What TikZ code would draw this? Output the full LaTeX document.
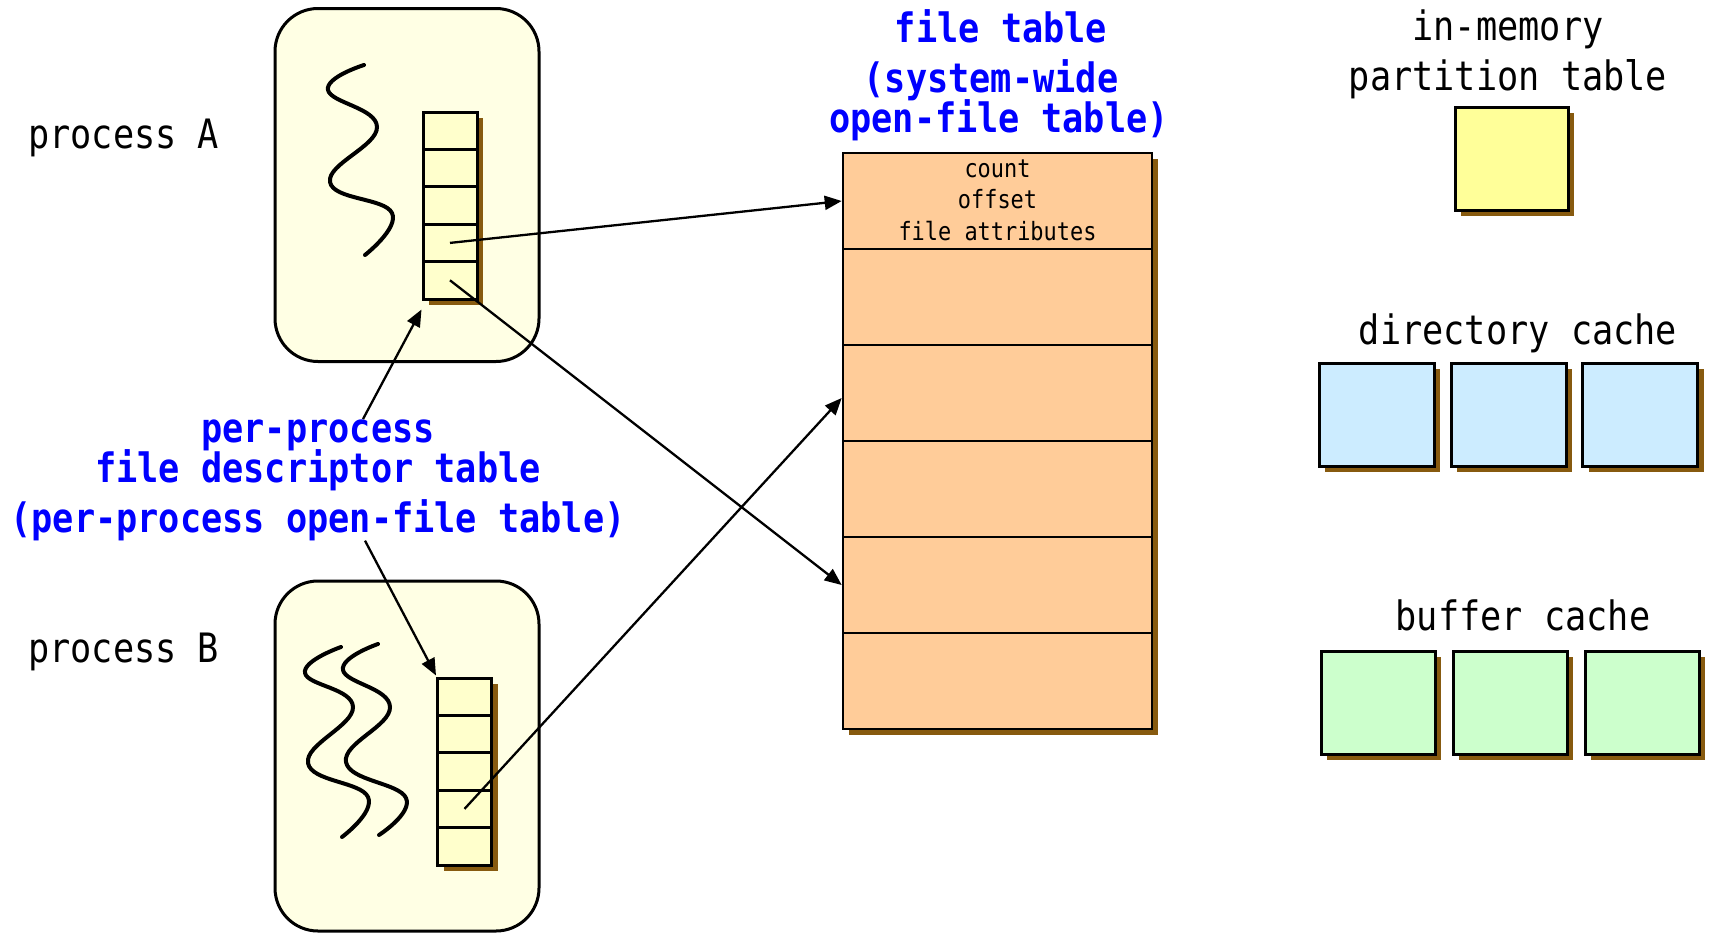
\documentclass[tikz,border=0pt]{standalone}
\usepackage{fontspec}
\newfontfamily\mono[FakeStretch=0.87]{DejaVu Sans Mono}
\usetikzlibrary{arrows.meta,shadows}
\definecolor{shadowc}{RGB}{135,90,15}
\definecolor{procfill}{RGB}{255,255,228}
\definecolor{cellfill}{RGB}{255,255,204}
\definecolor{ftfill}{RGB}{255,204,153}
\definecolor{partfill}{RGB}{255,255,153}
\definecolor{dirfill}{RGB}{204,236,255}
\definecolor{buffill}{RGB}{204,255,204}
\definecolor{bluetxt}{RGB}{0,0,255}
\begin{document}
\begin{tikzpicture}[x=1pt,y=-1pt,
  shd/.style={general shadow={fill=shadowc, shadow xshift=6pt, shadow yshift=-6pt}},
  procbox/.style={draw, line width=3pt, rounded corners=43pt, fill=procfill, inner sep=0pt},
  cell/.style={draw, line width=3pt, fill=cellfill, shd, minimum width=54pt, minimum height=37.4pt, inner sep=0pt},
  ftcell/.style={draw, line width=2.6pt, fill=ftfill, shd, minimum width=309pt, minimum height=96pt, inner sep=0pt},
  sq/.style={draw, line width=3pt, shd, minimum width=114pt, minimum height=103pt, inner sep=0pt},
  bigtxt/.style={font=\mono\fontsize{40.5}{48}\selectfont, inner sep=0pt, anchor=base},
  bluetitle/.style={bigtxt, font=\mono\bfseries\fontsize{40.5}{48}\selectfont, text=bluetxt},
  smalltxt/.style={font=\mono\fontsize{25.2}{30}\selectfont, inner sep=0pt, anchor=base},
  arr/.style={line width=2.3pt, -{Triangle[length=17pt,width=14pt]}},
  wave/.style={line width=4pt, line cap=round}
]
\useasboundingbox (0,0) rectangle (1711,932);

% process boxes
\node[procbox, minimum width=264pt, minimum height=353pt] (procA) at (407,185) {};
\node[procbox, minimum width=264pt, minimum height=350pt] (procB) at (407,756) {};

% waves
\draw[wave] plot[smooth, tension=0.75] coordinates {(364,65) (328,90) (377,127) (330,182) (392,213) (365,255)};
\draw[wave] plot[smooth, tension=0.75] coordinates {(341,647) (305,673) (353,707) (308,763) (368,797) (342,837)};
\draw[wave] plot[smooth, tension=0.75] coordinates {(378,644) (343,670) (390,707) (346,762) (406,798) (379,835)};

% table A
\node[cell] (a1) at (450,130.7) {};
\node[cell] (a2) at (450,168.1) {};
\node[cell] (a3) at (450,205.5) {};
\node[cell] (a4) at (450,242.9) {};
\node[cell] (a5) at (450,280.3) {};
% table B
\node[cell] (b1) at (464.5,696.7) {};
\node[cell] (b2) at (464.5,734.1) {};
\node[cell] (b3) at (464.5,771.5) {};
\node[cell] (b4) at (464.5,808.9) {};
\node[cell] (b5) at (464.5,846.3) {};

% file table
\node[ftcell] (f1) at (997.5,201) {};
\node[ftcell] (f2) at (997.5,297) {};
\node[ftcell] (f3) at (997.5,393) {};
\node[ftcell] (f4) at (997.5,489) {};
\node[ftcell] (f5) at (997.5,585) {};
\node[ftcell] (f6) at (997.5,681) {};
\node[smalltxt] (tcount) at (997.5,177) {count};
\node[smalltxt] (toffset) at (997.5,208) {offset};
\node[smalltxt] (tattr) at (997.5,240) {file attributes};

% titles
\node[bluetitle] (ft1) at (1001,42) {file table};
\node[bluetitle] (ft2) at (991,92) {(system-wide};
\node[bluetitle] (ft3) at (999,132) {open-file table)};

\node[bluetitle] (l1) at (318,442) {per-process};
\node[bluetitle] (l2) at (318,482) {file descriptor table};
\node[bluetitle] (l3) at (318,532) {(per-process open-file table)};

\node[bigtxt, anchor=base west] (pA) at (28,148) {process A};
\node[bigtxt, anchor=base west] (pB) at (28,662) {process B};

% right side
\node[bigtxt] (im1) at (1508,40) {in-memory};
\node[bigtxt] (im2) at (1508,90) {partition table};
\node[sq, fill=partfill, minimum width=113pt] (part) at (1511.5,158.5) {};

\node[bigtxt] (dc) at (1518,344) {directory cache};
\node[sq, fill=dirfill, minimum width=115pt] (d1) at (1376.5,414.5) {};
\node[sq, fill=dirfill, minimum width=115pt] (d2) at (1508.5,414.5) {};
\node[sq, fill=dirfill, minimum width=115pt] (d3) at (1640,414.5) {};

\node[bigtxt] (bc) at (1523,630) {buffer cache};
\node[sq, fill=buffill] (c1) at (1378,702.5) {};
\node[sq, fill=buffill] (c2) at (1510,702.5) {};
\node[sq, fill=buffill] (c3) at (1642,702.5) {};

% connectors
\draw[arr] (a4.center) -- (f1.west);
\draw[arr] (a5.center) -- (f5.west);
\draw[arr] (b4.center) -- ([yshift=-5pt]f3.west);
\draw[arr] ([xshift=45pt]l1.north) -- ([yshift=-9pt]a5.south west);
\draw[arr] ([xshift=47pt]l3.south) -- ([yshift=1pt]b1.north west);
\end{tikzpicture}
\end{document}
